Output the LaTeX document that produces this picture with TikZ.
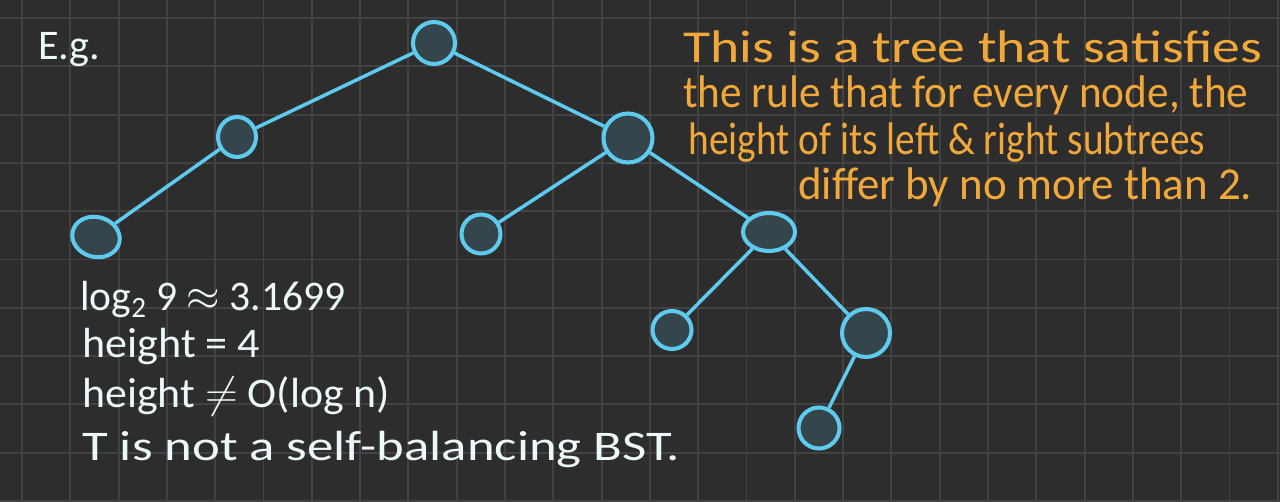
\documentclass[tikz,border=0pt]{standalone}
\usepackage{fontspec}
\setmainfont{Carlito}
\usepackage{graphicx}
\usepackage{tikz}
\usetikzlibrary{shapes.geometric}
\definecolor{boarddark}{RGB}{45,45,45}
\definecolor{gridgray}{RGB}{66,66,66}
\definecolor{nodeslate}{RGB}{53,69,76}
\definecolor{skyline}{RGB}{94,202,238}
\definecolor{chalkwhite}{RGB}{236,248,250}
\definecolor{penorange}{RGB}{241,168,58}
% stretch or squeeze one line of handwriting to a given width
\newcommand{\linefit}[2]{\resizebox{#1}{\height}{#2}}

\begin{document}
\begin{tikzpicture}[x=0.02cm, y=-0.02cm,
  treenode/.style={ellipse, draw=skyline, fill=nodeslate, line width=2.3pt, inner sep=0pt},
  treeedge/.style={skyline, line width=2pt},
  chalk/.style={chalkwhite, font=\fontsize{24}{27}\selectfont, anchor=base west, inner sep=0pt},
  pennote/.style={penorange, font=\fontsize{26}{29}\selectfont, anchor=base west, inner sep=0pt}]
  % board
  \fill[boarddark] (0,0) rectangle (1280,502);
  \useasboundingbox (0,0) rectangle (1280,502);
  \foreach \gx in {0,...,26}
    \draw[gridgray, line width=1.1pt] (22+48.3*\gx,0) -- (22+48.3*\gx,502);
  \foreach \gy in {0,...,10}
    \draw[gridgray, line width=1.1pt] (0,18+48.3*\gy) -- (1280,18+48.3*\gy);

  % tree
  \node[treenode, minimum width=0.84cm, minimum height=0.84cm] (root) at (434,43) {};
  \node[treenode, minimum width=0.76cm, minimum height=0.80cm] (l) at (237,137) {};
  \node[treenode, minimum width=0.96cm, minimum height=0.80cm, rotate=-15] (ll) at (96,237) {};
  \node[treenode, minimum width=0.98cm, minimum height=0.98cm] (r) at (628,138) {};
  \node[treenode, minimum width=0.78cm, minimum height=0.78cm] (rl) at (481,234) {};
  \node[treenode, minimum width=1.04cm, minimum height=0.76cm] (rr) at (769,232) {};
  \node[treenode, minimum width=0.78cm, minimum height=0.76cm] (rrl) at (672,330) {};
  \node[treenode, minimum width=0.96cm, minimum height=0.96cm] (rrr) at (866,333) {};
  \node[treenode, minimum width=0.82cm, minimum height=0.82cm] (rrrl) at (819,428) {};
  \draw[treeedge] (root) -- (l);
  \draw[treeedge] (root) -- (r);
  \draw[treeedge] (l) -- (ll);
  \draw[treeedge] (r) -- (rl);
  \draw[treeedge] (r) -- (rr);
  \draw[treeedge] (rr) -- (rrl);
  \draw[treeedge] (rr) -- (rrr);
  \draw[treeedge] (rrr) -- (rrrl);

  % white notes
  \node[chalk] (eg) at (38,60) {E.g.};
  \node[chalk] (logline) at (80,311) {\linefit{5.3cm}{log\textsubscript{2} 9 $\approx$ 3.1699}};
  \node[chalk] (hline) at (82,358) {\linefit{3.56cm}{height = 4}};
  \node[chalk] (bigo) at (82,408) {\linefit{6.16cm}{height $\neq$ O(log n)}};
  \node[chalk] (verdict) at (82,460) {\linefit{11.96cm}{T is not a self-balancing BST.}};

  % orange notes
  \node[pennote] (rule1) at (683,63) {\linefit{11.58cm}{This is a tree that satisfies}};
  \node[pennote] (rule2) at (683,108) {\linefit{11.3cm}{the rule that for every node, the}};
  \node[pennote] (rule3) at (688,155) {\linefit{10.34cm}{height of its left \& right subtrees}};
  \node[pennote] (rule4) at (798,200) {\linefit{9.08cm}{differ by no more than 2.}};
\end{tikzpicture}
\end{document}
